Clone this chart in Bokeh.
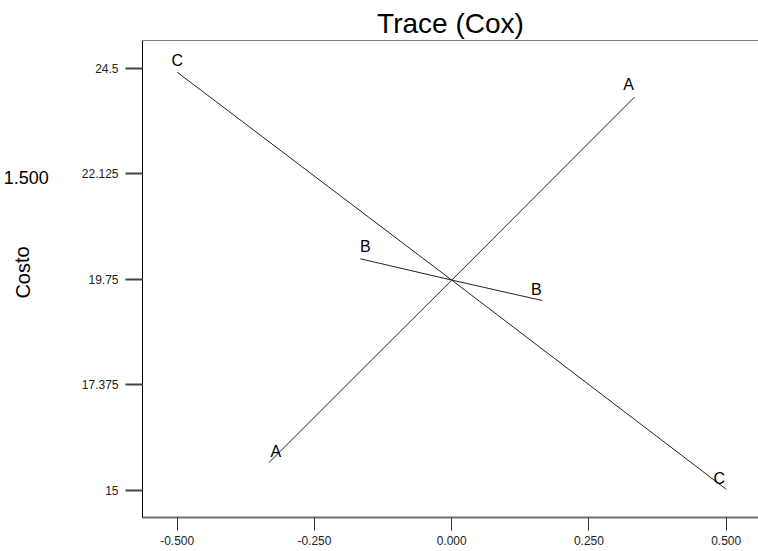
from bokeh.plotting import figure
from bokeh.layouts import row
from bokeh.models import Range1d, FixedTicker, Label, Span, ColumnDataSource
from bokeh.core.properties import value
from bokeh.embed import file_html
from bokeh.resources import INLINE

# ---- data ----
title_text = "Trace (Cox)"
y_axis_title = "Costo"
side_value = "1.500"

x_ticks = [-0.5, -0.25, 0.0, 0.25, 0.5]
x_tick_labels = ["-0.500", "-0.250", "0.000", "0.250", "0.500"]
y_ticks = [15, 17.375, 19.75, 22.125, 24.5]
y_tick_labels = ["15", "17.375", "19.75", "22.125", "24.5"]

a_x = [-0.333, 0.0, 0.333]
a_y = [15.62, 19.73, 23.85]
b_x = [-0.1665, 0.0, 0.165]
b_y = [20.21, 19.73, 19.27]
c_x = [-0.5, 0.0, 0.5]
c_y = [24.41, 19.73, 15.02]
series_names = ["A", "B", "C"]

FONT = "Liberation Sans"
STRIP_W = 60
H = 551
FRAME_BOTTOM = 517  # pixel row of the x axis (frames of the row are aligned)

# ---- left strip holding the outer texts ----
s = figure(width=STRIP_W, height=H, title=None, output_backend="svg", toolbar_location=None,
           x_range=Range1d(0, STRIP_W), y_range=Range1d(0, H),
           min_border_left=0, min_border_right=0, min_border_top=0, min_border_bottom=0,
           x_axis_type=None, y_axis_type=None)
s.outline_line_color = None
s.xgrid.visible = False
s.ygrid.visible = False
s.add_layout(Label(x=3.3, y=FRAME_BOTTOM - 177, x_units="screen", y_units="screen", text=side_value,
                   text_font=FONT, text_font_size="18px", text_color="black",
                   text_align="left", text_baseline="alphabetic"))
s.add_layout(Label(x=22, y=FRAME_BOTTOM - 272, x_units="screen", y_units="screen", text=y_axis_title,
                   text_font=FONT, text_font_size="20px", text_color="black",
                   text_align="center", text_baseline="middle", angle=1.5708))

# ---- main chart ----
p = figure(width=758 - STRIP_W, height=H, title=title_text,
           x_range=Range1d(-0.5632, 0.5588), y_range=Range1d(14.385, 25.124),
           output_backend="svg", toolbar_location=None,
           min_border_left=142 - STRIP_W, min_border_right=0, min_border_top=40, min_border_bottom=34)
p.title.align = "center"
p.title.text_font = FONT
p.title.text_font_size = "28px"
p.title.text_font_style = "normal"
p.title.text_color = "black"
p.title.standoff = 4
p.title.vertical_align = "bottom"
p.outline_line_color = None
p.xgrid.visible = False
p.ygrid.visible = False

xa = p.xaxis[0]
xa.ticker = FixedTicker(ticks=x_ticks)
xa.major_label_overrides = dict(zip(x_ticks, x_tick_labels))
xa.axis_line_color = "#707070"
xa.axis_line_width = 2
xa.major_tick_line_color = "#333333"
xa.major_tick_out = 13
xa.major_tick_in = 0
xa.minor_tick_line_color = None
xa.major_label_text_font = FONT
xa.major_label_text_font_size = "12px"
xa.major_label_text_color = "#222222"
xa.major_label_standoff = 5

ya = p.yaxis[0]
ya.ticker = FixedTicker(ticks=y_ticks)
ya.major_label_overrides = dict(zip(y_ticks, y_tick_labels))
ya.axis_line_color = "black"
ya.axis_line_width = 1
ya.major_tick_line_color = "#444444"
ya.major_tick_line_width = 2
ya.major_tick_out = 17
ya.major_tick_in = 0
ya.minor_tick_line_color = None
ya.major_label_text_font = FONT
ya.major_label_text_font_size = "12px"
ya.major_label_text_color = "#222222"
ya.major_label_standoff = 7

p.add_layout(Span(location=p.y_range.end, dimension="width", line_color="black", line_width=1))

line_color = "#222222"
for xs, ys in [(a_x, a_y), (b_x, b_y), (c_x, c_y)]:
    p.line(xs, ys, line_color=line_color, line_width=1)

# end labels
lx, ly, lt, ox, oy = [], [], [], [], []
starts_off = {"A": (7, -11), "B": (5, -12), "C": (0, -12)}
ends_off = {"A": (-6, -13), "B": (-6, -11), "C": (-7, -11)}
for name, xs, ys in zip(series_names, [a_x, b_x, c_x], [a_y, b_y, c_y]):
    lx += [xs[0], xs[-1]]
    ly += [ys[0], ys[-1]]
    lt += [name, name]
    ox += [starts_off[name][0], ends_off[name][0]]
    oy += [starts_off[name][1], ends_off[name][1]]
src = ColumnDataSource(dict(x=lx, y=ly, t=lt, ox=ox, oy=oy))
p.text(x="x", y="y", text="t", x_offset="ox", y_offset="oy", source=src,
       text_font=value(FONT), text_font_size="16px", text_color="black",
       text_align="center", text_baseline="middle")

layout = row(s, p, spacing=0)
open("out.html", "w").write(file_html(layout, INLINE))
